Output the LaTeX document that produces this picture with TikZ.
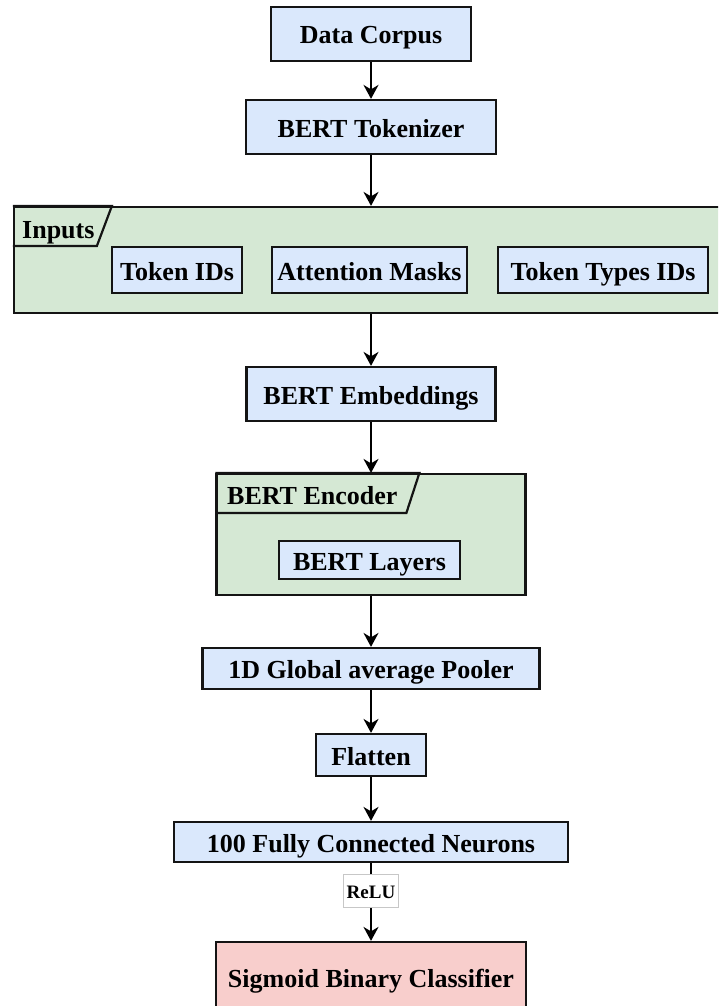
\documentclass[tikz,border=0pt]{standalone}
\usepackage{fontspec}
\setmainfont{Liberation Serif}
\usetikzlibrary{arrows.meta}
\definecolor{boxblue}{HTML}{DAE8FC}
\definecolor{boxgreen}{HTML}{D5E8D4}
\definecolor{boxred}{HTML}{F8CECC}
\definecolor{inkdark}{HTML}{141414}
\begin{document}
\begin{tikzpicture}[x=1pt,y=-1pt,
  block/.style={draw=inkdark, line width=2.2pt, fill=boxblue, inner sep=0pt,
    text height=20pt, text depth=0pt,
    font=\fontsize{26}{30}\selectfont\bfseries, text=black},
  group/.style={draw=inkdark, line width=2.2pt, fill=boxgreen, inner sep=0pt},
  tabedge/.style={draw=inkdark, line width=2.2pt, line join=miter},
  tablabel/.style={inner sep=0pt, anchor=base west,
    font=\fontsize{26}{30}\selectfont\bfseries, text=black},
  flow/.style={draw=black, line width=2pt,
    -{Stealth[length=14pt,width=15pt,inset=4.5pt]}},
  actlabel/.style={draw=black!22, line width=0.8pt, fill=white, inner sep=0pt,
    minimum width=55pt, minimum height=33pt, text height=14pt, text depth=0pt,
    font=\fontsize{19}{22}\selectfont\bfseries, text=black}
]
\useasboundingbox (0,0) rectangle (718,1006);
\clip (0,0) rectangle (718,1006);

% pipeline head
\node[block, minimum width=200pt, minimum height=54pt] (corpus) at (371,34) {Data Corpus};
\node[block, minimum width=250pt, minimum height=54pt] (tokenizer) at (371,127) {BERT Tokenizer};

% tokenizer outputs
\node[group, minimum width=714pt, minimum height=106pt] (inputs) at (371,260) {};
\draw[tabedge] (inputs.north west) -- ++(99,0) -- ++(-15,40) -- ++(-84,0);
\node[tablabel] (inputslabel) at (22,238) {Inputs};
\node[block, minimum width=130pt, minimum height=46pt] (tokenids) at (177,270) {Token IDs};
\node[block, minimum width=195pt, minimum height=46pt] (masks) at (369.5,270) {Attention Masks};
\node[block, minimum width=210pt, minimum height=46pt] (types) at (603,270) {Token Types IDs};

\node[block, minimum width=249pt, minimum height=54pt] (embed) at (371,394) {BERT Embeddings};

% encoder stack
\node[group, minimum width=309pt, minimum height=121pt] (encoder) at (371,534.5) {};
\draw[tabedge] (encoder.north west) -- ++(204,0) -- ++(-13,40) -- ++(-191,0);
\node[tablabel] (encoderlabel) at (227,504) {BERT Encoder};
\node[block, minimum width=181pt, minimum height=38pt] (layers) at (369.5,560) {BERT Layers};

% classification head
\node[block, minimum width=337pt, minimum height=41pt] (pooler) at (371,668.5) {1D Global average Pooler};
\node[block, minimum width=110pt, minimum height=42pt] (flatten) at (371,755) {Flatten};
\node[block, minimum width=394pt, minimum height=40pt] (dense) at (371,842) {100 Fully Connected Neurons};
\node[block, fill=boxred, minimum width=310pt, minimum height=70pt] (sigmoid) at (371,977) {Sigmoid Binary Classifier};

% connections
\draw[flow] (corpus) -- (tokenizer);
\draw[flow] (tokenizer) -- (inputs.north -| tokenizer.south);
\draw[flow] (inputs.south -| embed.north) -- (embed);
\draw[flow] (embed) -- (encoder);
\draw[flow] (encoder.south -| pooler.north) -- (pooler);
\draw[flow] (pooler) -- (flatten);
\draw[flow] (flatten) -- (dense);
\draw[flow] (dense) -- node[actlabel, pos=0.36] (relu) {ReLU} (sigmoid);
\end{tikzpicture}
\end{document}
